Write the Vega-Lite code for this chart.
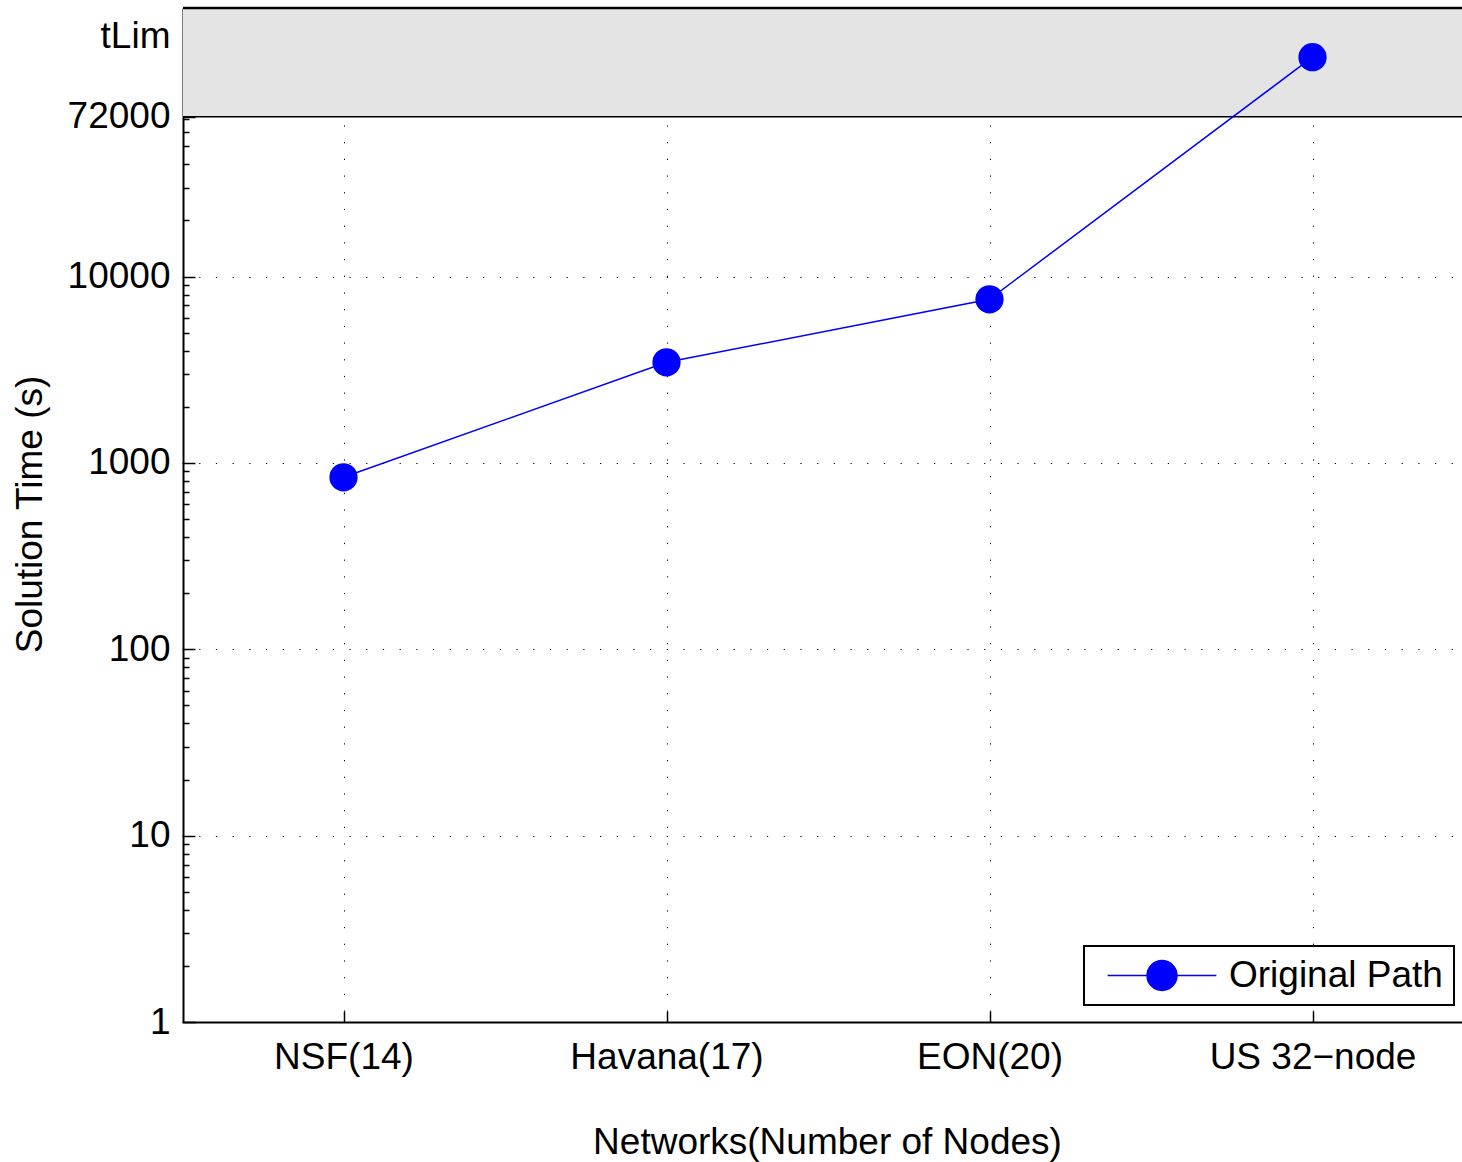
{
  "$schema": "https://vega.github.io/schema/vega-lite/v6.json",
  "width": 1279,
  "height": 1014,
  "autosize": {"type": "none"},
  "padding": {"left": 183, "top": 8, "right": 0, "bottom": 140},
  "background": "white",
  "config": {
    "view": {"stroke": null},
    "font": "Liberation Sans",
    "legend": {
      "strokeColor": "black",
      "strokeWidth": 2,
      "fillColor": "white",
      "padding": 11
    }
  },
  "data": {
    "values": [
      {"network": "NSF(14)", "time": 837, "series": "Original Path"},
      {"network": "Havana(17)", "time": 3467, "series": "Original Path"},
      {"network": "EON(20)", "time": 7550, "series": "Original Path"},
      {"network": "US 32−node", "time": 150300, "series": "Original Path"}
    ]
  },
  "layer": [
    {
      "data": {"values": [{"lower": 72000, "upper": 276000}]},
      "mark": {"type": "rect", "fill": "#e4e4e4"},
      "encoding": {
        "y": {"field": "lower", "type": "quantitative", "title": "Solution Time (s)"},
        "y2": {"field": "upper"}
      }
    },
    {
      "data": {"values": [{"limit": 72000}]},
      "mark": {"type": "rule", "color": "black", "strokeWidth": 1.6},
      "encoding": {
        "y": {"field": "limit", "type": "quantitative", "title": "Solution Time (s)"}
      }
    },
    {
      "data": {"values": [{"edge": 276000}]},
      "mark": {"type": "rule", "color": "black", "strokeWidth": 2.5},
      "encoding": {
        "y": {"field": "edge", "type": "quantitative", "title": "Solution Time (s)"}
      }
    },
    {
      "mark": {"type": "line", "strokeWidth": 1.5},
      "encoding": {
        "x": {"field": "network", "type": "nominal", "sort": null},
        "y": {"field": "time", "type": "quantitative", "title": "Solution Time (s)"},
        "color": {"field": "series", "type": "nominal"}
      }
    },
    {
      "mark": {"type": "point", "filled": true, "size": 800, "opacity": 1},
      "encoding": {
        "x": {
          "field": "network",
          "type": "nominal",
          "sort": null,
          "scale": {"type": "point", "padding": 0.5, "range": [-1, 1291]},
          "axis": {
            "title": "Networks(Number of Nodes)",
            "labelAngle": 0,
            "labelAlign": "center",
            "labelLimit": 0,
            "labelFontSize": 37,
            "labelColor": "black",
            "labelPadding": 28,
            "labelBaseline": "top",
            "tickSize": {"condition": {"test": "datum.value != null", "value": -11}, "value": -11},
            "tickColor": "black",
            "tickWidth": 1.5,
            "grid": true,
            "gridDash": [1.2, 15.5],
            "gridColor": "black",
            "gridWidth": 1,
            "domainColor": "black",
            "domainWidth": 2,
            "titleFontSize": 37,
            "titleFontWeight": "normal",
            "titleColor": "black",
            "titleX": 644,
            "titleY": 120,
            "titleAlign": "center",
            "titleBaseline": "middle"
          }
        },
        "y": {
          "field": "time",
          "type": "quantitative",
          "title": "Solution Time (s)",
          "scale": {"type": "log", "domain": [1, 276000], "nice": false},
          "axis": {
            "values": [1, 2, 3, 4, 5, 6, 7, 8, 9, 10, 20, 30, 40, 50, 60, 70, 80, 90, 100, 200, 300, 400, 500, 600, 700, 800, 900, 1000, 2000, 3000, 4000, 5000, 6000, 7000, 8000, 9000, 10000, 20000, 30000, 40000, 50000, 60000, 70000, 72000, 195000],
            "labelExpr": "datum.value == 195000 ? 'tLim' : (indexof([1, 10, 100, 1000, 10000, 72000], datum.value) >= 0 ? '' + datum.value : '')",
            "labelFontSize": 37,
            "labelColor": "black",
            "labelPadding": 25,
            "labelOverlap": false,
            "labelFlush": false,
            "labelBaseline": "middle",
            "tickSize": {"condition": {"test": "indexof([1, 10, 100, 1000, 10000, 72000, 195000], datum.value) >= 0", "value": -12}, "value": -6},
            "tickOpacity": {"condition": {"test": "datum.value == 195000", "value": 0}, "value": 1},
            "tickColor": "black",
            "tickWidth": 1.5,
            "grid": true,
            "gridOpacity": {"condition": {"test": "indexof([10, 100, 1000, 10000], datum.value) >= 0", "value": 1}, "value": 0},
            "gridDash": [1.2, 15.5],
            "gridColor": "black",
            "gridWidth": 1,
            "domainColor": "black",
            "domainWidth": 2,
            "titleFontSize": 37,
            "titleFontWeight": "normal",
            "titleColor": "black",
            "titleX": -153,
            "titleY": 506,
            "titleAngle": -90,
            "titleAlign": "center",
            "titleBaseline": "middle"
          }
        },
        "color": {
          "field": "series",
          "type": "nominal",
          "scale": {"domain": ["Original Path"], "range": ["#0000ff"]},
          "legend": {
            "title": null,
            "orient": "none",
            "legendX": 901,
            "legendY": 938,
            "labelFontSize": 37,
            "labelColor": "black",
            "labelFont": "Liberation Sans",
            "labelLimit": 0,
            "symbolType": "M-3.2,0H3.2M-0.88,0A0.88,0.88,0,1,1,0.88,0A0.88,0.88,0,1,1,-0.88,0Z",
            "symbolSize": 1156,
            "symbolStrokeWidth": 1.5,
            "symbolFillColor": "#0000ff",
            "symbolStrokeColor": "#0000ff",
            "symbolOffset": 48.5,
            "labelOffset": 48.5
          }
        }
      }
    }
  ]
}
